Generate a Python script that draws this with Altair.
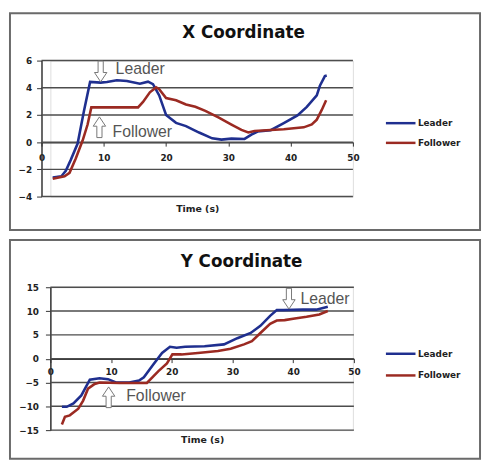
import altair as alt
import pandas as pd

# ---------------- data ----------------
series_names = ["Leader", "Follower"]
series_colors = ["#1f2f8f", "#9b2a22"]

# X coordinate panel
t_x_leader = [1.8, 3.2, 3.9, 4.7, 5.8, 6.8, 7.8, 9.5, 10.5, 12.1, 13.7, 15.8, 17.1, 17.9, 18.9, 20.0,
              21.6, 23.2, 25.3, 27.4, 28.9, 30.5, 32.6, 33.7, 34.7, 36.8, 38.9, 41.1, 42.6, 44.2,
              44.7, 45.5, 45.8]
x_leader = [-2.6, -2.5, -2.1, -1.3, -0.1, 2.25, 4.43, 4.38, 4.43, 4.55, 4.5, 4.3, 4.45, 4.27, 3.44, 2.0,
            1.42, 1.18, 0.71, 0.28, 0.19, 0.26, 0.24, 0.55, 0.78, 0.88, 1.4, 1.97, 2.6, 3.44,
            4.15, 4.86, 4.9]
t_x_follower = [1.8, 3.7, 4.5, 5.5, 6.6, 7.4, 8.0, 15.5, 16.3, 17.4, 18.4, 18.9, 20.0, 21.6, 23.2,
                24.7, 26.3, 28.4, 30.5, 32.1, 33.2, 34.2, 36.8, 38.9, 40.5, 42.1, 43.4, 44.2, 45.0, 45.7]
x_follower = [-2.68, -2.5, -2.25, -1.2, 0.12, 1.3, 2.56, 2.56, 2.96, 3.67, 4.03, 3.9, 3.25, 3.08, 2.77,
              2.6, 2.3, 1.82, 1.3, 0.9, 0.71, 0.83, 0.9, 0.95, 1.02, 1.09, 1.3, 1.66, 2.37, 3.08]

# Y coordinate panel
t_y_leader = [1.9, 2.7, 3.8, 5.1, 6.5, 8.1, 9.5, 10.8, 13.0, 14.6, 15.4, 16.8, 18.4, 19.7, 20.8, 22.2,
              25.4, 28.6, 30.8, 33.0, 34.6, 36.2, 37.3, 38.4, 41.6, 43.8, 45.7]
y_leader = [-10.1, -10.1, -9.4, -7.7, -4.4, -4.1, -4.3, -5.0, -5.0, -4.6, -3.9, -1.5, 1.2, 2.5, 2.3, 2.5,
            2.6, 3.0, 4.3, 5.4, 6.9, 9.0, 10.2, 10.2, 10.3, 10.3, 10.9]
t_y_follower = [1.9, 2.4, 3.2, 4.6, 5.4, 6.2, 7.3, 8.1, 11.4, 14.6, 15.9, 16.8, 17.8, 19.2, 20.1, 21.6,
                24.3, 27.6, 29.7, 31.9, 33.2, 34.6, 36.2, 37.3, 38.6, 40.0, 42.2, 44.3, 45.7]
y_follower = [-13.8, -12.2, -11.9, -10.5, -8.8, -6.3, -5.3, -5.0, -5.1, -5.1, -5.1, -3.9, -2.6, -1.0, 0.9,
              0.9, 1.2, 1.6, 2.1, 3.0, 3.7, 5.4, 7.3, 8.0, 8.1, 8.4, 8.8, 9.3, 10.0]

x_ticks = [0, 10, 20, 30, 40, 50]
x_panel_y_ticks = [-4, -2, 0, 2, 4, 6]
y_panel_y_ticks = [-15, -10, -5, 0, 5, 10, 15]

# annotations (time, value, label)
x_arrow_down = ([9.5], [5.2])
x_arrow_up = ([9.3], [1.1])
x_labels_ann = ([11.9, 11.4], [5.35, 0.75], ["Leader", "Follower"])
y_arrow_down = ([39.3], [12.6])
y_arrow_up = ([9.6], [-8.1])
y_labels_ann = ([41.2, 12.5], [12.6, -7.9], ["Leader", "Follower"])

DOWN = "M-0.25,-1L0.25,-1L0.25,0.1L0.6,0.1L0,1L-0.6,0.1L-0.25,0.1Z"
UP = "M-0.25,1L0.25,1L0.25,-0.1L0.6,-0.1L0,-1L-0.6,-0.1L-0.25,-0.1Z"
LEGEND_SYMBOL = "M-5,0H1"
AXFONT = "DejaVu Sans"
GRID = "#4d4d4d"


def long_df(tl, vl, tf, vf):
    return pd.concat([
        pd.DataFrame({"t": tl, "v": vl, "s": series_names[0]}),
        pd.DataFrame({"t": tf, "v": vf, "s": series_names[1]}),
    ])


def panel(df, title, yticks, ydom, x_range, H, box, title_xy, leg_xy, row_pad,
          x_offset, y_offset, time_y, ylab_pad, xlab_pad, arr_dn, arr_up, ann):
    xs = alt.Scale(domain=[0, 50], nice=False, range=x_range)
    ys = alt.Scale(domain=ydom, nice=False)
    xaxis = alt.Axis(
        values=x_ticks, offset=x_offset, grid=False, labelFlush=False, labelOverlap=False,
        domainColor="#333", domainWidth=1.5, tickColor="#333", tickSize=4,
        labelFont=AXFONT, labelFontWeight="bold", labelFontSize=9, labelColor="#222",
        labelPadding=xlab_pad,
        title="Time (s)", titleFont=AXFONT, titleFontWeight="bold", titleFontSize=9.5,
        titleColor="#222", titleY=time_y, titleBaseline="middle")
    yaxis = alt.Axis(
        values=yticks, grid=False, labelOverlap=False, offset=y_offset,
        domainColor="#333", domainWidth=1.5, tickColor="#333", tickSize=5,
        labelFont=AXFONT, labelFontWeight="bold", labelFontSize=9, labelColor="#222",
        labelPadding=ylab_pad, title=None)
    X = alt.X("t:Q", scale=xs, axis=xaxis)
    Y = alt.Y("v:Q", scale=ys, axis=yaxis)

    frame = alt.Chart(pd.DataFrame({"a": [0]})).mark_rect(
        filled=False, stroke="#6a6a6a", strokeWidth=2
    ).encode(x=alt.value(box[0]), x2=alt.value(box[1]),
             y=alt.value(box[2]), y2=alt.value(box[3]))

    grid = alt.Chart(pd.DataFrame({"v": yticks})).mark_rule(
        color=GRID, strokeWidth=1.5
    ).encode(y=Y, x=alt.value(x_range[0]), x2=alt.value(x_range[1]))

    ttl = alt.Chart(pd.DataFrame({"a": [0]})).mark_text(
        font=AXFONT, fontWeight="bold", fontSize=17, color="#111",
        align="center", baseline="alphabetic"
    ).encode(x=alt.value(title_xy[0]), y=alt.value(title_xy[1]), text=alt.value(title))

    lines = alt.Chart(df).mark_line(strokeWidth=2.6).encode(
        x=X, y=Y,
        color=alt.Color("s:N", scale=alt.Scale(domain=series_names, range=series_colors),
                        sort=series_names,
                        legend=alt.Legend(
                            orient="none", legendX=leg_xy[0], legendY=leg_xy[1], title=None,
                            padding=0, symbolType=LEGEND_SYMBOL, symbolSize=100,
                            symbolStrokeWidth=2.5, labelFont=AXFONT, labelFontWeight="bold",
                            labelFontSize=9, labelColor="#222", labelOffset=1,
                            rowPadding=row_pad)),
    )

    dn = alt.Chart(pd.DataFrame({"t": arr_dn[0], "v": arr_dn[1]})).mark_point(
        shape=DOWN, size=441, filled=True, fill="white", stroke="#777", strokeWidth=1, opacity=1
    ).encode(x=X, y=Y)
    up = alt.Chart(pd.DataFrame({"t": arr_up[0], "v": arr_up[1]})).mark_point(
        shape=UP, size=441, filled=True, fill="white", stroke="#777", strokeWidth=1, opacity=1
    ).encode(x=X, y=Y)
    txt = alt.Chart(pd.DataFrame({"t": ann[0], "v": ann[1], "l": ann[2]})).mark_text(
        font="Liberation Sans", fontSize=16, color="#555", align="left", baseline="middle"
    ).encode(x=X, y=Y, text="l:N")

    return alt.layer(frame, grid, ttl, lines, dn, up, txt).properties(width=307, height=H)


# common plot origin is at page x = 49 (bottom panel's y axis)
top = panel(long_df(t_x_leader, x_leader, t_x_follower, x_follower), "X Coordinate",
            x_panel_y_ticks, [-4, 6], [-9, 307], 138,
            box=(-41, 436, -48, 172), title_xy=(196, -23), leg_xy=(359, 57), row_pad=8,
            x_offset=-55.2, y_offset=9, time_y=67, ylab_pad=5, xlab_pad=8,
            arr_dn=x_arrow_down, arr_up=x_arrow_up, ann=x_labels_ann)

bottom = panel(long_df(t_y_leader, y_leader, t_y_follower, y_follower), "Y Coordinate",
               y_panel_y_ticks, [-15, 15], [0, 308], 145,
               box=(-41, 436, -48, 174), title_xy=(194, -21), leg_xy=(359, 61), row_pad=10,
               x_offset=-72.5, y_offset=0, time_y=82.5, ylab_pad=7, xlab_pad=5,
               arr_dn=y_arrow_down, arr_up=y_arrow_up, ann=y_labels_ann)

chart = alt.vconcat(top, bottom, spacing=6).properties(
    padding={"left": 0, "top": 0, "right": 0, "bottom": 0}
).resolve_scale(color="independent").configure_view(stroke=None).configure(background="white")

chart.save("out.html", embed_options={"renderer": "svg", "actions": False})
